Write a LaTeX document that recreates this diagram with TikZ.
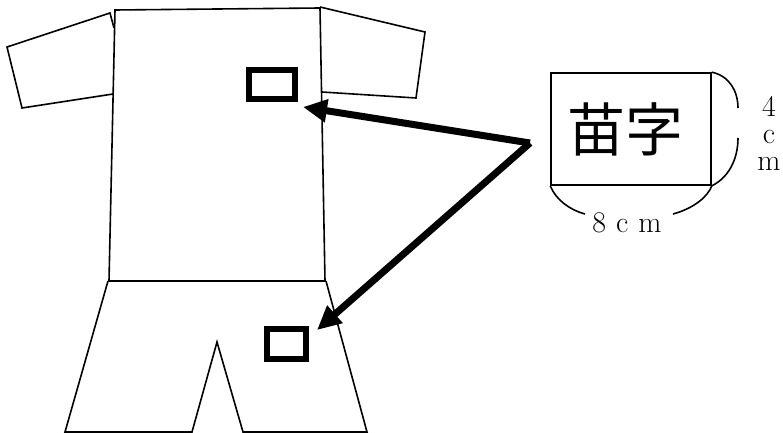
\documentclass[tikz,border=0pt]{standalone}
\usepackage{fontspec}
\newfontfamily\cjk{Noto Sans CJK JP}
\usetikzlibrary{arrows.meta}
\tikzset{
	pocket/.style={draw, line width=3pt, inner sep=0pt},
	pointer/.style={line width=3.5pt, -{Triangle[length=12pt, width=11pt]}},
}
\begin{document}
\begin{tikzpicture}[x=.5pt, y=-.5pt, line width=.8pt]
	\useasboundingbox (0,0) rectangle (783,433);
	% shirt
	\draw (115,10) -- (320,8) -- (325,281) -- (109,281) -- cycle;
	\draw (114,28) -- (110,13) -- (7,47) -- (22,108) -- (113,94);
	\draw (320,7) -- (425,32) -- (416,98) -- (322,92);
	% shorts
	\draw (108,281) -- (65,432) -- (192,432) -- (217,342) -- (243,432) -- (367,432) -- (326,281);
	\node[pocket, minimum width=23pt, minimum height=14.5pt] (P1) at (272,84.5) {};
	\node[pocket, minimum width=19.5pt, minimum height=15pt] (P2) at (286.5,344) {};
	% name tag
	\node[draw, minimum width=80pt, minimum height=56pt, inner sep=0pt] (N) at (631,129) {};
	\node[font=\cjk\fontsize{29}{29}\selectfont, inner sep=0pt] (L) at (625,129) {苗字};
	\coordinate (S) at (530,143);
	\coordinate (T1) at (303,107);
	\coordinate (T2) at (317,330);
	\draw[pointer] (S) -- (T1);
	\draw[pointer] (S) -- (T2);
	\draw (N.north east) .. controls (730,76) and (738,92) .. (738,108);
	\draw (738,138) .. controls (738,160) and (728,178) .. (N.south east);
	\draw (N.south west) .. controls (556,200) and (570,210) .. (585,214);
	\draw (673,214) .. controls (695,208) and (708,196) .. (N.south east);
	\node[align=center, font=\fontsize{15}{13.5}\selectfont, inner sep=0pt] (H) at (769,133) {4\\c\\m};
	\node[font=\fontsize{15}{15}\selectfont, inner sep=0pt] (W) at (627,223) {8\hspace{5pt}c\hspace{5pt}m};
\end{tikzpicture}
\end{document}
